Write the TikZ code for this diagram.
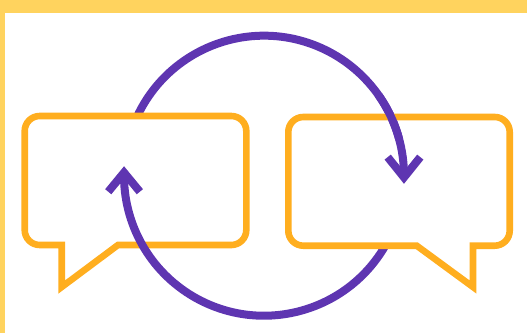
\documentclass[tikz,border=0pt]{standalone}
\usepackage{tikz}
\definecolor{framey}{HTML}{FFD35E}
\definecolor{bubbleo}{HTML}{FFAE1F}
\definecolor{loopp}{HTML}{5E35B1}
\begin{document}
\begin{tikzpicture}[
  x=1pt,y=1pt,
  bubble/.style={draw=bubbleo,line width=6.6pt,miter limit=10},
  loopline/.style={draw=loopp,line width=8pt},
  looptip/.style={draw=loopp,line width=8pt,miter limit=10},
]
\useasboundingbox (0,0) rectangle (527,333);
\fill[framey] (0,0) rectangle (527,333);
\fill[white] (5,0) rectangle (527,320);
\coordinate (ctr) at (264,157.3);
% upper arc goes under the left bubble
\draw[loopline] (ctr) ++(154.5:140) arc[start angle=154.5,end angle=-0.7,radius=140] coordinate (endr);
\draw[looptip] ([xshift=-16.3,yshift=20.3]endr) -- (endr) -- ([xshift=16.3,yshift=20.3]endr);
% left bubble
\draw[bubble] (61.7,88) -- (61.7,46) -- (118,88) [rounded corners=15] -- (246.3,88)
  -- (246.3,217) -- (24.7,217) -- (24.7,88) [sharp corners] -- cycle;
% lower arc goes over it
\draw[loopline] (ctr) ++(-30:140) arc[start angle=-30,end angle=-181.3,radius=140] coordinate (endl);
\draw[looptip] ([xshift=-15.8,yshift=-19.2]endl) -- (endl) -- ([xshift=15.8,yshift=-19.2]endl);
% right bubble
\draw[bubble] (473,87.3) -- (473,46) -- (416.7,87.3) [rounded corners=15] -- (288.3,87.3)
  -- (288.3,216) -- (509.7,216) -- (509.7,87.3) [sharp corners] -- cycle;
% crossing on top of the right bubble
\draw[loopline] (ctr) ++(35:140) arc[start angle=35,end angle=15,radius=140];
\end{tikzpicture}
\end{document}
